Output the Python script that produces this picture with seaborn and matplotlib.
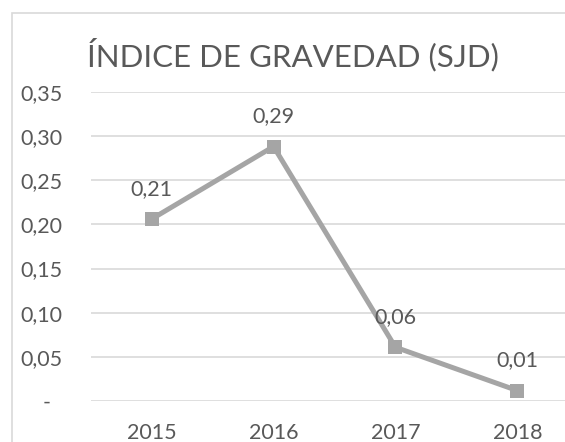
import matplotlib
matplotlib.use('Agg')
import pandas as pd
import seaborn as sns
import matplotlib.pyplot as plt
from matplotlib.patches import Rectangle

#%% data
years = ['2015', '2016', '2017', '2018']
indice = [0.206, 0.288, 0.061, 0.012]
etiquetas = ['0,21', '0,29', '0,06', '0,01']
yticks = [0, 0.05, 0.10, 0.15, 0.20, 0.25, 0.30, 0.35]
ytick_labels = ['-  ', '0,05', '0,10', '0,15', '0,20', '0,25', '0,30', '0,35']
titulo = 'ÍNDICE DE GRAVEDAD (SJD)'

df = pd.DataFrame({'year': years, 'indice': indice})

#%% style
sns.set_theme(style='white')
plt.rcParams['font.family'] = ['Lato', 'DejaVu Sans']
TXT = '#595959'
GRID = '#D9D9D9'
LINE = '#A5A5A5'
W, H = 565, 442
FS = 15.5

fig = plt.figure(figsize=(W / 100, H / 100), dpi=100)
fig.patch.set_facecolor('white')
ax = fig.add_axes([90.7 / W, 1 - 401.2 / H, 1 - 90.7 / W, (401.2 - 91.7) / H])

sns.lineplot(data=df, x='year', y='indice', sort=False, color=LINE, lw=3.6,
             marker='s', markersize=10.5, markeredgewidth=0, ax=ax)

ax.set_xlim(-0.5, (W - 90.7) / 121.9 - 0.5)
ax.set_ylim(0, 0.35)
ax.set_yticks(yticks)
ax.set_yticklabels(ytick_labels)
ax.set_xlabel('')
ax.set_ylabel('')
ax.grid(axis='y', color=GRID, lw=1.2)
ax.grid(axis='x', visible=False)
ax.set_axisbelow(True)
for s in ax.spines.values():
    s.set_visible(False)
ax.tick_params(axis='y', length=0, pad=20.5, labelsize=FS, labelcolor=TXT)
ax.tick_params(axis='x', length=0, pad=16, labelsize=FS, labelcolor=TXT)

# data labels
for i, (v, lbl) in enumerate(zip(indice, etiquetas)):
    ax.annotate(lbl, (i, v), xytext=(0, 17.5), textcoords='offset points',
                ha='center', va='baseline', fontsize=FS, color=TXT)

# title and chart border
fig.text(293 / W, 1 - 66.7 / H, titulo, ha='center', va='baseline',
         fontsize=22.5, color=TXT)
fig.add_artist(Rectangle((11.7 / W, -0.1), 1.2, 1 - 12.7 / H + 0.1,
                         transform=fig.transFigure, fill=False,
                         ec=GRID, lw=1.2))

fig.savefig('out.png', dpi=100)
